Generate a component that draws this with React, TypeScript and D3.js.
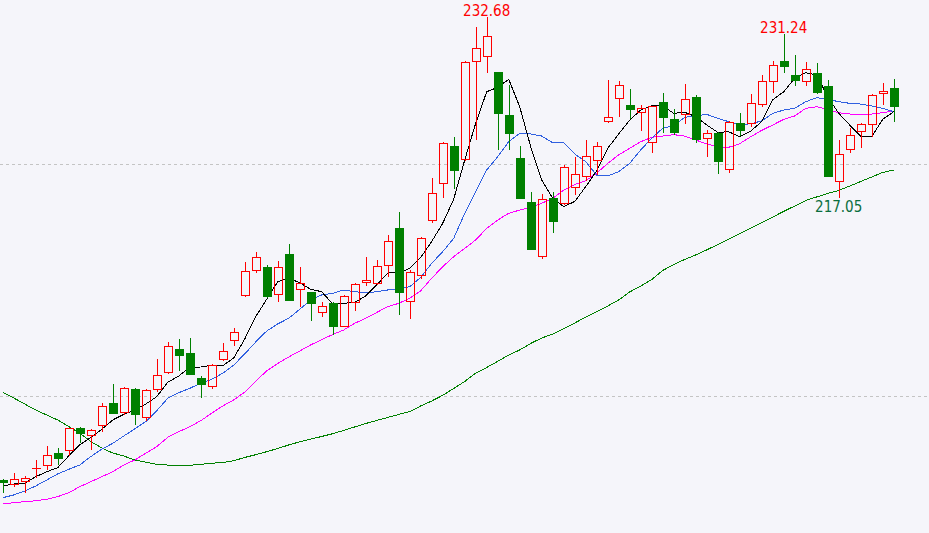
import { useEffect, useRef } from "react"
import * as d3 from "d3"

// daily OHLC
const opens = [
  192.76, 192.30, 192.56, 193.68, 193.94, 195.09, 195.23, 197.24, 196.58, 197.44,
  199.40, 198.56, 200.60, 198.13, 200.54, 201.96, 204.05, 203.71, 201.53, 200.80,
  203.08, 204.77, 208.59, 210.80, 211.12, 208.68, 212.24, 209.11, 208.97, 207.13,
  208.02, 205.97, 208.04, 209.72, 209.68, 211.23, 214.48, 208.08, 210.37, 215.06,
  218.25, 221.55, 220.32, 228.77, 229.20, 227.93, 224.22, 220.52, 216.72, 212.01,
  217.07, 216.53, 217.91, 218.85, 220.23, 223.59, 225.58, 225.09, 224.37, 221.78,
  225.32, 223.85, 224.22, 225.78, 222.13, 222.70, 219.48, 223.53, 223.45, 225.11,
  227.09, 228.88, 227.65, 227.09, 227.82, 226.72, 218.42, 221.18, 222.73, 223.39,
  226.01, 226.55,
]
const highs = [
  192.85, 193.34, 193.13, 194.48, 195.69, 195.52, 197.27, 197.33, 197.16, 199.37,
  201.03, 200.78, 200.65, 200.58, 203.19, 204.63, 204.91, 205.00, 201.72, 202.76,
  204.54, 205.86, 211.55, 212.41, 211.29, 211.64, 213.10, 211.12, 209.00, 208.08,
  208.13, 208.71, 209.77, 211.98, 211.70, 213.85, 215.86, 210.86, 213.73, 218.79,
  221.87, 222.35, 228.88, 231.78, 232.68, 227.95, 226.81, 221.55, 217.59, 217.39,
  217.56, 219.94, 220.60, 222.07, 221.90, 227.24, 227.16, 226.47, 225.09, 225.03,
  226.12, 224.72, 226.90, 225.97, 222.93, 222.75, 223.71, 224.42, 226.03, 227.67,
  228.88, 231.24, 229.40, 228.77, 228.68, 227.24, 222.07, 223.08, 223.50, 226.03,
  227.01, 227.33,
]
const lows = [
  191.61, 192.18, 191.61, 192.90, 193.62, 194.08, 194.83, 195.97, 195.34, 196.92,
  198.45, 198.36, 197.50, 197.87, 200.34, 201.90, 202.18, 201.80, 199.85, 200.60,
  203.02, 204.31, 208.55, 210.63, 208.42, 208.13, 208.18, 207.70, 206.49, 206.84,
  205.26, 205.93, 207.35, 209.51, 209.57, 210.28, 206.96, 206.68, 210.09, 214.89,
  217.09, 217.87, 220.28, 222.07, 227.87, 221.23, 221.23, 216.96, 212.58, 211.84,
  214.03, 216.50, 217.33, 218.56, 219.03, 223.55, 224.08, 223.88, 222.87, 220.97,
  222.65, 222.50, 223.42, 221.78, 220.58, 219.11, 219.25, 222.41, 223.22, 224.94,
  226.15, 227.87, 226.72, 226.72, 226.01, 218.88, 217.05, 220.97, 221.35, 222.35,
  225.06, 223.65,
]
const closes = [
  192.53, 192.82, 192.93, 193.82, 194.89, 194.59, 197.22, 196.75, 197.07, 199.11,
  198.47, 200.69, 198.36, 200.49, 201.78, 204.28, 203.47, 201.84, 200.92, 202.67,
  203.85, 205.49, 210.75, 211.96, 208.56, 211.09, 208.22, 209.74, 207.96, 207.73,
  205.97, 208.59, 209.63, 210.00, 211.21, 213.34, 208.91, 210.69, 213.62, 217.47,
  221.78, 219.42, 228.79, 229.97, 231.01, 224.34, 222.61, 217.01, 212.61, 216.96,
  215.03, 219.72, 219.11, 220.66, 221.53, 224.03, 226.78, 224.68, 224.80, 225.00,
  223.99, 222.70, 225.58, 222.09, 222.65, 220.15, 223.59, 222.82, 225.23, 227.13,
  228.51, 228.39, 227.18, 228.16, 226.15, 218.91, 220.84, 222.47, 223.47, 225.92,
  226.27, 224.94,
]

// moving averages as drawn
const ma5 = [
  192.24, 192.41, 192.47, 193.04, 193.47, 193.82, 194.83, 195.78, 196.41, 197.13,
  197.93, 198.42, 198.79, 199.31, 199.94, 201.18, 201.72, 202.47, 202.50, 202.65,
  202.61, 203.28, 204.91, 206.84, 208.34, 209.85, 210.15, 209.77, 209.20, 208.99,
  207.93, 207.99, 208.08, 208.62, 209.57, 210.60, 210.63, 210.99, 211.94, 213.32,
  214.89, 216.96, 220.34, 223.51, 226.23, 226.61, 227.30, 224.94, 221.49, 218.62,
  217.04, 216.32, 216.77, 218.04, 219.42, 221.35, 222.59, 223.79, 224.65, 225.03,
  225.00, 224.37, 224.46, 224.08, 223.36, 222.73, 222.78, 222.35, 222.84, 223.65,
  225.52, 226.23, 227.39, 227.87, 227.67, 225.80, 224.37, 223.36, 222.41, 222.35,
  223.85, 224.51,
]
const ma10 = [
  191.23, 191.47, 191.81, 192.24, 192.76, 193.28, 193.68, 194.05, 194.77, 195.41,
  195.92, 196.55, 197.16, 197.79, 198.73, 199.80, 200.28, 200.66, 201.10, 201.44,
  201.96, 202.67, 203.62, 204.66, 205.60, 206.21, 206.70, 207.47, 208.28, 208.71,
  208.85, 209.14, 208.99, 208.90, 208.99, 209.14, 209.22, 209.42, 210.22, 211.44,
  212.44, 213.59, 215.75, 217.61, 219.48, 220.63, 221.92, 222.65, 222.59, 222.41,
  221.84, 221.85, 220.86, 220.20, 219.05, 218.97, 219.34, 220.06, 221.21, 222.22,
  223.08, 223.30, 224.03, 224.14, 224.28, 223.94, 223.65, 223.36, 223.47, 223.71,
  224.37, 224.65, 224.80, 225.37, 225.72, 225.58, 225.37, 225.23, 225.17, 225.00,
  224.80, 224.51,
]
const ma20 = [
  190.69, 190.80, 190.89, 190.97, 191.10, 191.32, 191.66, 192.18, 192.61, 193.04,
  193.47, 194.05, 194.48, 195.06, 195.63, 196.44, 196.92, 197.35, 197.87, 198.51,
  199.14, 199.66, 200.34, 201.29, 202.16, 202.80, 203.36, 203.88, 204.40, 204.87,
  205.30, 205.69, 206.27, 206.70, 207.20, 207.70, 207.99, 208.42, 209.07, 210.15,
  211.15, 212.01, 212.73, 213.45, 214.46, 215.17, 215.75, 216.03, 216.27, 216.61,
  217.04, 217.76, 218.23, 218.56, 219.20, 220.06, 220.78, 221.35, 221.92, 222.30,
  222.41, 222.53, 222.41, 222.07, 221.72, 221.49, 221.44, 221.75, 222.35, 222.90,
  223.36, 223.85, 224.14, 224.80, 224.94, 224.72, 224.42, 224.31, 224.31, 224.31,
  224.42, 224.57,
]
const ma60 = [
  200.30, 199.83, 199.31, 198.79, 198.36, 197.93, 197.37, 196.81, 196.08, 195.52,
  195.09, 194.83, 194.48, 194.29, 194.11, 194.05, 194.03, 194.03, 194.11, 194.20,
  194.27, 194.42, 194.70, 194.94, 195.20, 195.47, 195.78, 196.05, 196.29, 196.51,
  196.75, 197.03, 197.33, 197.63, 197.89, 198.15, 198.41, 198.66, 199.14, 199.57,
  200.06, 200.65, 201.25, 201.98, 202.46, 202.99, 203.53, 203.97, 204.53, 205.00,
  205.34, 205.82, 206.29, 206.81, 207.28, 207.76, 208.28, 208.97, 209.48, 210.04,
  210.82, 211.34, 211.77, 212.16, 212.59, 213.06, 213.53, 214.01, 214.48, 214.96,
  215.43, 215.91, 216.38, 216.85, 217.16, 217.46, 217.72, 218.10, 218.49, 218.88,
  219.27, 219.48,
]

const gridLevels = [200, 220]

// marked extremes: candle index and which end
const highMarks = [44, 71]
const lowMarks = [76]

const W = 929
const H = 533
const BG = "#f5f5fa"
const RED = "#ff0000"
const GREEN = "#008000"

export default function App() {
  const svgRef = useRef<SVGSVGElement>(null)

  useEffect(() => {
    if (!svgRef.current) return
    const svg = d3.select(svgRef.current)
    svg.selectAll("*").remove()

    const x = d3.scaleLinear().domain([0, opens.length - 1]).range([2.7, 893.7])
    const y = d3.scaleLinear().domain([200, 220]).range([396, 164])

    svg.append("rect").attr("width", W).attr("height", H).attr("fill", BG)

    // dashed price levels
    svg.append("g")
      .selectAll("line")
      .data(gridLevels)
      .enter()
      .append("line")
      .attr("x1", 0)
      .attr("x2", W)
      .attr("y1", (d) => Math.round(y(d)) + 0.5)
      .attr("y2", (d) => Math.round(y(d)) + 0.5)
      .attr("stroke", "#c4c4c4")
      .attr("stroke-dasharray", "3,3")
      .attr("shape-rendering", "crispEdges")

    const line = d3.line<number>()
      .x((_, i) => x(i))
      .y((d) => y(d))

    const series = [
      { values: ma60, color: GREEN },
      { values: ma20, color: "#ff00ff" },
      { values: ma10, color: "#3060e0" },
      { values: ma5, color: "#000000" },
    ]
    svg.append("g")
      .selectAll("path")
      .data(series)
      .enter()
      .append("path")
      .attr("d", (d) => line(d.values) || "")
      .attr("fill", "none")
      .attr("stroke", (d) => d.color)
      .attr("stroke-width", 1)
      .attr("shape-rendering", "crispEdges")

    // candles
    const candles = d3.range(opens.length).map((i) => ({
      i, o: opens[i], h: highs[i], l: lows[i], c: closes[i],
    }))

    const cg = svg.append("g").attr("shape-rendering", "crispEdges")
    candles.forEach((d) => {
      const cx = Math.round(x(d.i))
      const up = d.c >= d.o
      const color = up ? RED : GREEN
      const top = Math.round(y(Math.max(d.o, d.c)))
      const bot = Math.round(y(Math.min(d.o, d.c)))
      const yh = Math.round(y(d.h))
      const yl = Math.round(y(d.l))
      const wx = cx + 0.5

      if (up && bot - top >= 2) {
        if (top > yh) cg.append("line").attr("x1", wx).attr("x2", wx).attr("y1", yh).attr("y2", top).attr("stroke", color)
        if (yl > bot) cg.append("line").attr("x1", wx).attr("x2", wx).attr("y1", bot).attr("y2", yl).attr("stroke", color)
        cg.append("rect")
          .attr("x", cx - 3.5)
          .attr("y", top + 0.5)
          .attr("width", 8)
          .attr("height", bot - top - 1)
          .attr("fill", "none")
          .attr("stroke", color)
      } else {
        cg.append("line").attr("x1", wx).attr("x2", wx).attr("y1", yh).attr("y2", Math.max(yl, yh + 1)).attr("stroke", color)
        cg.append("rect")
          .attr("x", cx - 4)
          .attr("y", top)
          .attr("width", 9)
          .attr("height", Math.max(1, bot - top))
          .attr("fill", color)
      }
    })

    const font = "'Liberation Sans Narrow', 'Arial Narrow', 'DejaVu Sans Condensed', sans-serif"
    svg.append("g")
      .selectAll("text")
      .data(highMarks)
      .enter()
      .append("text")
      .attr("x", (i) => x(i))
      .attr("y", (i) => y(highs[i]) - 1)
      .attr("text-anchor", "middle")
      .attr("font-family", font)
      .attr("font-size", 15)
      .attr("fill", RED)
      .text((i) => highs[i].toFixed(2))

    svg.append("g")
      .selectAll("text")
      .data(lowMarks)
      .enter()
      .append("text")
      .attr("x", (i) => x(i))
      .attr("y", (i) => y(lows[i]) + 14)
      .attr("text-anchor", "middle")
      .attr("font-family", font)
      .attr("font-size", 15)
      .attr("fill", "#0b6e3e")
      .text((i) => lows[i].toFixed(2))
  }, [])

  return (
    <div style={{ position: "absolute", left: 0, top: 0 }}>
      <svg ref={svgRef} width={W} height={H} style={{ display: "block" }} />
    </div>
  )
}
